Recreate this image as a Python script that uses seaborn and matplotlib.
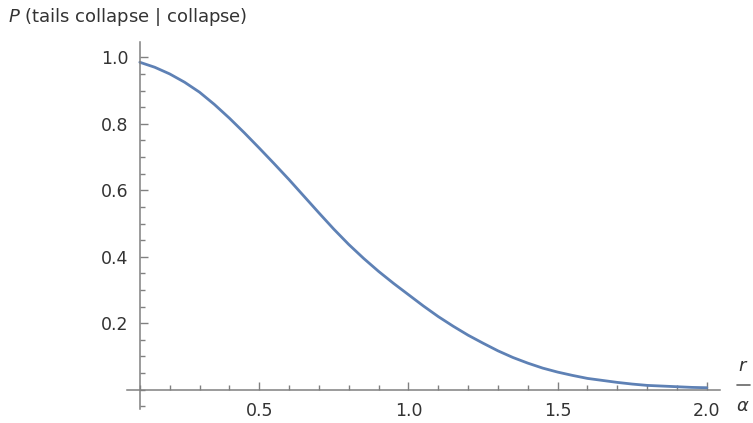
import pandas as pd
import seaborn as sns
import matplotlib.pyplot as plt
from matplotlib.lines import Line2D
from matplotlib.ticker import MultipleLocator, FixedLocator

# values (r / alpha vs probability)
r_over_alpha = [0.10, 0.15, 0.20, 0.25, 0.30, 0.35, 0.40, 0.45, 0.50, 0.55,
                0.60, 0.65, 0.70, 0.75, 0.80, 0.85, 0.90, 0.95, 1.00, 1.05,
                1.10, 1.15, 1.20, 1.25, 1.30, 1.35, 1.40, 1.45, 1.50, 1.55,
                1.60, 1.65, 1.70, 1.75, 1.80, 1.85, 1.90, 1.95, 2.00]
p_tails = [0.985, 0.970, 0.950, 0.925, 0.895, 0.858, 0.817, 0.773, 0.727, 0.680,
           0.632, 0.582, 0.532, 0.483, 0.437, 0.395, 0.356, 0.320, 0.286, 0.252,
           0.220, 0.191, 0.164, 0.140, 0.117, 0.097, 0.080, 0.065, 0.053, 0.043,
           0.034, 0.028, 0.022, 0.017, 0.013, 0.011, 0.009, 0.007, 0.006]

x_major = [0.5, 1.0, 1.5, 2.0]
y_major = [0.2, 0.4, 0.6, 0.8, 1.0]

sns.set_style("ticks")
plt.rcParams['font.family'] = ['DejaVu Sans']

df = pd.DataFrame({'r': r_over_alpha, 'p': p_tails})

fig = plt.figure(figsize=(7.53, 4.23), dpi=100)
ax = fig.add_axes([127 / 753, 1 - 409 / 423, 593 / 753, 367 / 423])

sns.lineplot(data=df, x='r', y='p', ax=ax, color='#5e81b5', linewidth=2.0)

ax.set_xlim(0.057, 2.044)
ax.set_ylim(-0.058, 1.046)

axis_col = '#808080'
for side in ['top', 'right']:
    ax.spines[side].set_visible(False)
ax.spines['left'].set_position(('data', 0.1))
ax.spines['bottom'].set_position(('data', 0.0))
for side in ['left', 'bottom']:
    ax.spines[side].set_color(axis_col)
    ax.spines[side].set_linewidth(1.1)

ax.xaxis.set_major_locator(FixedLocator(x_major))
ax.yaxis.set_major_locator(FixedLocator(y_major))
ax.xaxis.set_minor_locator(MultipleLocator(0.1))
ax.yaxis.set_minor_locator(MultipleLocator(0.05))
ax.set_xticklabels(['0.5', '1.0', '1.5', '2.0'])
ax.set_yticklabels(['0.2', '0.4', '0.6', '0.8', '1.0'])

ax.tick_params(which='both', direction='in', color=axis_col, width=1.0,
               labelcolor='#333333', labelsize=12.5, bottom=True, left=True)
ax.tick_params(which='major', length=6)
ax.tick_params(axis='x', which='major', pad=9)
ax.tick_params(axis='y', which='major', pad=8)
ax.tick_params(which='minor', length=3.5)
ax.set_xlabel('')
ax.set_ylabel('')

fig.text(8 / 753, 1 - 17 / 423, r'$P$ (tails collapse $|$ collapse)',
         fontsize=13, color='#333333', ha='left', va='center')

# r over alpha, written as a stacked fraction at the right end of the x axis
fig.text(743 / 753, 1 - 366 / 423, r'$r$', fontsize=13, color='#333333',
         ha='center', va='center')
fig.text(743 / 753, 1 - 406 / 423, r'$\alpha$', fontsize=13, color='#333333',
         ha='center', va='center')
fig.add_artist(Line2D([737 / 753, 750 / 753], [1 - 385 / 423, 1 - 385 / 423],
                      transform=fig.transFigure, color='#666666', linewidth=1.2))

fig.savefig('out.png', dpi=100)
